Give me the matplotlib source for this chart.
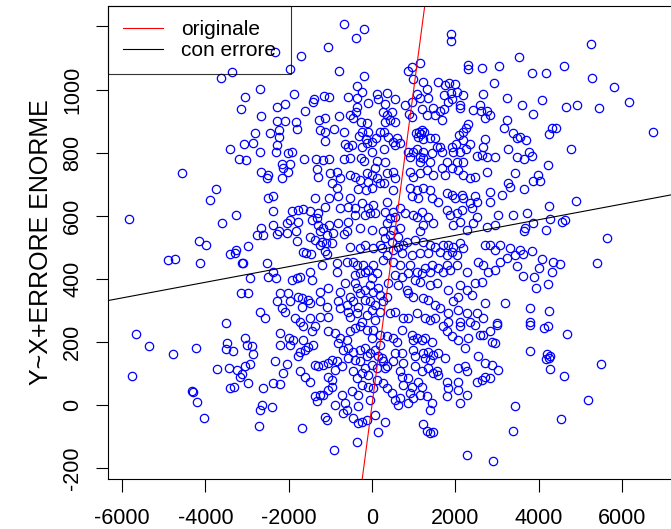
import numpy as np
import matplotlib
matplotlib.use("Agg")
import matplotlib.pyplot as plt

plt.rcParams['font.family'] = ['Liberation Sans', 'DejaVu Sans']

# simulated sample, grouped by band of the plot (x, y)
band_top_left = [(-3616, 1038), (-3352, 1056), (-3400, 811), (-3184, 780), (-3144, 937)]

band_top_mid = [
    (-664, 1208), (-192, 1191), (-392, 1165), (-1064, 1134), (-2320, 1120), (-1704, 1107),
    (-1968, 1064), (-792, 1060), (-192, 1044), (-368, 1011), (-248, 991), (-2688, 1003),
    (-3048, 977), (-1872, 985), (-1392, 969), (-1152, 979), (-1024, 975), (-568, 978),
    (-352, 972), (-88, 958), (112, 985), (136, 970), (-2272, 946), (-2088, 954),
    (-1608, 932), (-1408, 961), (-800, 916), (-528, 919), (-392, 930), (-368, 946),
    (-2672, 916), (-2272, 901), (-2088, 901), (-1832, 898), (-1792, 874), (-1272, 903),
    (-1128, 911), (-1248, 872), (-1128, 864), (-912, 874), (-664, 865), (-448, 911),
    (-272, 898), (-128, 893), (-248, 866), (-88, 866), (-304, 853), (-144, 842),
    (-8, 835), (96, 845), (-2808, 861), (-2448, 861), (-2224, 872), (-2224, 848),
    (-2848, 829), (-3072, 826), (-2272, 824), (-1128, 837), (-648, 826), (-568, 819),
    (-488, 824), (-248, 819), (-128, 829), (-2688, 803), (-2304, 803), (-2008, 799),
    (-1912, 803), (-2168, 763), (-1968, 763), (-1632, 780), (-1352, 780), (-1168, 776),
    (-1024, 780), (-672, 780), (-528, 784), (-272, 782), (-192, 775), (-3032, 776),
    (112, 773), (-8, 803), (192, 866),
]

band_top_right = [
    (1896, 1176), (1896, 1154), (1152, 1085), (872, 1060), (968, 1072), (992, 1035),
    (2312, 1078), (2312, 1065), (2632, 1069), (3048, 1076), (3536, 1102), (2928, 1022),
    (2656, 986), (3232, 972), (1232, 1023), (1312, 1002), (1592, 1023), (1752, 1016),
    (1856, 1020), (1992, 1017), (368, 988), (552, 970), (312, 953), (472, 930),
    (432, 903), (552, 896), (312, 898), (792, 951), (888, 924), (952, 961),
    (1072, 985), (1152, 974), (1352, 972), (1192, 938), (1312, 919), (1456, 942),
    (1512, 919), (1632, 932), (1728, 938), (1672, 903), (1728, 983), (1888, 988),
    (2048, 991), (2192, 983), (1832, 961), (1912, 969), (2112, 942), (2112, 951),
    (2432, 935), (2592, 951), (2608, 932), (2768, 932), (2832, 919), (2712, 911),
    (3232, 903), (3168, 879), (2296, 890), (2256, 879), (2192, 866), (2096, 856),
    (2192, 840), (2016, 827), (2112, 803), (2256, 811), (2352, 826), (2512, 790),
    (2632, 792), (2712, 843), (2672, 819), (2768, 787), (2952, 785), (3272, 813),
    (3392, 861), (3472, 845), (3552, 850), (3472, 787), (1136, 866), (1192, 872),
    (1248, 866), (1112, 850), (1232, 843), (1392, 845), (1512, 845), (1552, 819),
    (1632, 819), (1672, 803), (1432, 798), (1232, 803), (1072, 813), (992, 803),
    (872, 803), (1152, 787), (1232, 784), (912, 787), (592, 845), (512, 835),
    (672, 829), (288, 810), (288, 866), (392, 850), (312, 771), (1792, 771),
    (1912, 819), (1952, 803), (2032, 771), (2192, 771), (1152, 771), (1392, 771),
    (1168, 858), (1056, 861), (552, 824), (352, 919), (272, 930), (952, 914),
]

band_top_far = [
    (5256, 1145), (3832, 1053), (4176, 1054), (4616, 1075), (5288, 1038), (5816, 1009),
    (6168, 959), (5448, 940), (4912, 951), (4648, 945), (4072, 966), (3608, 951),
    (3872, 921), (6752, 864), (4256, 858), (4312, 879), (4416, 877), (4776, 813),
    (3688, 840), (3768, 801), (3848, 789), (3648, 780), (4216, 761),
]

band_mid_left = [
    (-4568, 735), (-3752, 684), (-3888, 651), (-5824, 590), (-3264, 602), (-3592, 578),
    (-4152, 520), (-3992, 506), (-4888, 461), (-4728, 464), (-4128, 451), (-3408, 478),
    (-3264, 491), (-3288, 481), (-3128, 451), (-3144, 354), (-3504, 259),
]

band_mid_mid = [
    (-2672, 738), (-2488, 729), (-2528, 721), (-2168, 719), (-2128, 750), (-2008, 740),
    (-1328, 748), (-1288, 724), (-1008, 735), (-848, 740), (-768, 719), (-968, 703),
    (-832, 687), (-528, 729), (-408, 724), (-288, 713), (-128, 735), (-88, 708),
    (72, 750), (112, 719), (-2488, 657), (-2384, 664), (-1368, 655), (-1024, 655),
    (-808, 661), (-528, 655), (-328, 685), (-144, 682), (-8, 687), (-2368, 616),
    (-1928, 616), (-1768, 618), (-1648, 620), (-1488, 616), (-1288, 608), (-1128, 626),
    (-768, 624), (-568, 629), (-408, 624), (-248, 639), (-88, 624), (32, 634),
    (72, 608), (-2048, 576), (-1968, 587), (-1768, 579), (-1448, 587), (-1328, 592),
    (-1288, 571), (-1168, 562), (-1024, 571), (-808, 576), (-568, 581), (-408, 602),
    (-168, 602), (-48, 608), (-288, 560), (-8, 555), (-2672, 560), (-2608, 539),
    (-2768, 539), (-2384, 569), (-2272, 541), (-2224, 550), (-2048, 544), (-1824, 550),
    (-1808, 520), (-1488, 534), (-1368, 523), (-1248, 550), (-1208, 518), (-1088, 539),
    (-928, 544), (-1104, 513), (-968, 513), (-672, 541), (-608, 550), (-2968, 504),
    (-1648, 484), (-1584, 481), (-1472, 478), (-1248, 507), (-1072, 478), (-1128, 488),
    (-528, 502), (-288, 497), (-168, 507), (32, 497), (192, 507), (-2528, 449),
    (-2368, 423), (-2312, 402), (-2488, 407), (-2928, 402), (-3088, 451), (-1928, 396),
    (-1808, 402), (-1728, 407), (-1488, 423), (-1448, 396), (-1208, 444), (-848, 449),
    (-848, 423), (-608, 454), (-448, 454), (-368, 444), (-168, 423), (-88, 428),
    (32, 444), (-288, 417), (112, 417), (-408, 412), (-408, 386), (-2208, 354),
    (-2008, 354), (-1768, 343), (-1688, 338), (-1528, 333), (-1248, 359), (-1048, 370),
    (-768, 359), (-648, 386), (-368, 370), (-288, 354), (-168, 365), (-48, 380),
    (32, 359), (152, 370), (-2968, 354), (-2288, 328), (-2168, 306), (-1968, 328),
    (-1688, 312), (-1488, 322), (-1248, 328), (-1088, 312), (-808, 328), (-608, 317),
    (-448, 328), (-328, 312), (-168, 333), (-48, 328), (72, 317), (-8, 301),
    (-2688, 296), (-2568, 275), (-2088, 296), (-1848, 275), (-1728, 264), (-1488, 275),
    (-1248, 280), (-1048, 280), (-768, 306), (-568, 296), (-528, 280), (-368, 291),
    (-248, 264), (-128, 285), (72, 269), (-208, 444), (-8, 402), (192, 349),
    (192, 296), (-528, 343), (-8, 729), (192, 703),
]

band_mid_right = [
    (352, 735), (512, 740), (552, 719), (912, 740), (992, 724), (1152, 735),
    (1312, 745), (1472, 729), (1672, 750), (1752, 729), (1912, 750), (2072, 745),
    (2192, 729), (2352, 719), (2472, 724), (2752, 740), (3432, 735), (3272, 703),
    (3312, 692), (288, 703), (512, 682), (912, 687), (1072, 682), (1232, 687),
    (1392, 682), (952, 661), (1112, 655), (1432, 655), (1592, 645), (1792, 671),
    (1912, 666), (1992, 655), (2152, 666), (2192, 655), (2352, 639), (2472, 661),
    (2512, 645), (2832, 676), (3112, 666), (2832, 645), (352, 645), (312, 613),
    (512, 613), (552, 597), (672, 624), (792, 608), (992, 602), (1072, 597),
    (1192, 613), (1352, 597), (1472, 576), (1232, 571), (1152, 550), (1792, 618),
    (1872, 602), (2032, 608), (2152, 618), (2392, 624), (2512, 597), (2432, 576),
    (2112, 581), (1952, 571), (2272, 555), (2752, 565), (2952, 571), (3032, 602),
    (3392, 602), (352, 576), (512, 555), (672, 560), (272, 550), (312, 528),
    (432, 539), (632, 534), (832, 518), (752, 507), (1032, 523), (1232, 518),
    (1392, 507), (1512, 502), (1712, 507), (1832, 507), (1952, 502), (2112, 513),
    (1632, 486), (1792, 476), (2032, 476), (2192, 497), (2712, 507), (2832, 507),
    (2952, 491), (3072, 507), (3312, 497), (3552, 491), (512, 491), (712, 481),
    (952, 476), (1152, 481), (1352, 481), (352, 476), (272, 460), (512, 454),
    (672, 444), (912, 444), (1072, 423), (1272, 433), (1432, 444), (1592, 433),
    (1712, 423), (1872, 428), (2032, 444), (2272, 423), (2552, 454), (2672, 444),
    (2792, 423), (2952, 428), (3072, 454), (3232, 465), (3432, 476), (3472, 439),
    (552, 412), (712, 407), (872, 417), (392, 386), (632, 380), (832, 365),
    (1032, 396), (1152, 391), (1392, 380), (1552, 386), (1832, 365), (2112, 380),
    (2272, 365), (2472, 386), (2632, 391), (352, 343), (272, 328), (872, 354),
    (992, 343), (1232, 338), (1352, 333), (1512, 317), (1632, 306), (1952, 328),
    (2072, 343), (2392, 349), (2712, 322), (3192, 322), (432, 291), (552, 296),
    (752, 275), (872, 275), (1072, 291), (1272, 275), (1392, 269), (1512, 275),
    (1832, 291), (2072, 301), (2272, 291), (2512, 291), (2352, 264), (2672, 275),
    (2992, 259), (1832, 264), (2112, 264), (432, 592), (232, 497), (472, 518),
    (632, 502), (1192, 417), (1392, 423), (1912, 486), (1792, 444),
]

band_mid_far = [
    (3992, 729), (3872, 710), (4032, 710), (3648, 684), (4896, 647), (4256, 632),
    (3712, 610), (4272, 590), (3872, 576), (4552, 581), (4632, 587), (4176, 554),
    (3648, 550), (3672, 560), (5648, 528), (5408, 450), (3848, 488), (4072, 463),
    (4352, 454), (4512, 448), (4328, 423), (4008, 433), (3632, 478), (3632, 409),
    (3888, 407), (3928, 370), (4216, 384), (3792, 306), (4256, 298), (3792, 262),
]

band_low_left = [
    (-5664, 225), (-5352, 187), (-4768, 161), (-4224, 180), (-5768, 93), (-4328, 43),
    (-4304, 40), (-4208, 9), (-4032, -40), (-3488, 196), (-3504, 178), (-3344, 172),
    (-3728, 113), (-3424, 117), (-3248, 111), (-3168, 90), (-3408, 53), (-3312, 56),
]

band_low_mid = [
    (-3048, 212), (-3008, 191), (-2888, 188), (-2848, 161), (-2928, 129), (-3048, 122),
    (-3128, 98), (-2968, 69), (-2208, 228), (-2208, 191), (-1984, 212), (-1968, 191),
    (-1888, 206), (-1728, 169), (-1648, 206), (-1608, 175), (-1528, 185), (-1768, 154),
    (-1448, 233), (-1408, 191), (-1648, 249), (-1368, 249), (-1048, 233), (-888, 228),
    (-768, 212), (-608, 206), (-528, 233), (-408, 243), (-288, 249), (-128, 238),
    (32, 238), (192, 222), (-808, 196), (-688, 175), (-568, 180), (-448, 169),
    (-288, 175), (-168, 180), (-48, 164), (72, 175), (152, 154), (-968, 143),
    (-848, 138), (-728, 122), (-568, 148), (-408, 143), (-288, 138), (-128, 154),
    (-8, 127), (112, 117), (-1368, 127), (-1288, 122), (-1168, 127), (-1048, 132),
    (-888, 111), (-448, 106), (-248, 101), (-88, 95), (112, 80), (-2328, 138),
    (-2048, 129), (-2128, 101), (-2368, 69), (-2208, 66), (-1728, 106), (-1608, 90),
    (-1488, 74), (-1048, 90), (-968, 80), (-2608, 53), (-2648, 0), (-2688, -16),
    (-2408, -8), (-2704, -68), (-1688, -72), (-1368, 27), (-1328, 11), (-1248, 32),
    (-1168, 32), (-1048, 48), (-968, 58), (-888, 0), (-728, 32), (-648, 6),
    (-608, -16), (-488, 43), (-328, 32), (-328, -5), (-248, 64), (-88, 58),
    (-48, 16), (72, -31), (-128, -47), (-328, -58), (-248, -53), (-688, -26),
    (-448, -42), (-1128, -37), (-1088, -47), (152, -86), (-368, -119), (-912, -144),
    (-8, 212), (192, 191), (272, 138), (-168, 117), (-368, 85), (32, 53),
]

band_low_right = [
    (352, 217), (512, 212), (592, 201), (712, 238), (952, 222), (992, 206),
    (1072, 212), (1192, 206), (1272, 212), (1432, 201), (1712, 249), (1792, 233),
    (1912, 217), (2072, 206), (2112, 249), (2312, 212), (2472, 254), (2592, 222),
    (2672, 222), (2832, 233), (2872, 201), (2952, 196), (2992, 254), (2232, 180),
    (552, 164), (712, 164), (992, 175), (1032, 154), (1232, 164), (1352, 169),
    (1472, 159), (1592, 164), (1752, 148), (1272, 148), (1392, 143), (312, 117),
    (352, 122), (672, 106), (712, 90), (752, 132), (1032, 122), (1192, 106),
    (1352, 117), (1472, 101), (1552, 106), (1592, 95), (752, 64), (272, 69),
    (352, 53), (472, 37), (952, 58), (912, 37), (872, 6), (632, 0),
    (1192, 58), (1152, 32), (1312, 27), (1432, 6), (1392, -16), (1792, 74),
    (1832, 53), (1792, 27), (2072, 74), (2072, 48), (2112, 6), (2272, 32),
    (2072, 117), (2232, 122), (2288, 106), (2552, 154), (2712, 132), (2872, 127),
    (3032, 111), (2512, 74), (2632, 80), (2712, 90), (2832, 85), (3432, -5),
    (3376, -82), (1232, -61), (1312, -84), (1392, -90), (1472, -86), (312, -53),
    (2272, -160), (2912, -179), (232, 148), (512, 138), (552, 16), (672, 21),
    (992, 21), (1112, 74), (872, 85),
]

band_low_far = [
    (3792, 254), (4128, 243), (4232, 249), (4672, 224), (3792, 172), (4192, 161),
    (4272, 154), (4176, 146), (4256, 148), (4272, 114), (4608, 91), (5488, 131),
    (5192, 16), (4528, -44),
]

# true relation and the fit on the noisy data (intercept, slope)
orig_a, orig_b = 0.0, 1.0
fit_a, fit_b = 488.0, 0.0248

x_ticks = [-6000, -4000, -2000, 0, 2000, 4000, 6000]
y_ticks = [-200, 0, 200, 400, 600, 800, 1000, 1200]
y_labels = ['-200', '0', '200', '400', '600', '800', '1000', '']

bands = [band_top_left, band_top_mid, band_top_right, band_top_far,
         band_mid_left, band_mid_mid, band_mid_right, band_mid_far,
         band_low_left, band_low_mid, band_low_right, band_low_far]
pts = np.array([p for b in bands for p in b], dtype=float)
X = pts[:, 0]
Y = pts[:, 1]

fig = plt.figure(figsize=(6.71, 5.29), dpi=100)
ax = fig.add_axes([108.3 / 671, 50 / 529, 572 / 671, 473 / 529])

ax.plot(X, Y, 'o', mfc='none', mec='#0000FF', ms=6, mew=0.9, linestyle='none')
ax.axline((0, orig_a), slope=orig_b, color='#FF0000', lw=0.8, label='originale')
ax.axline((0, fit_a), slope=fit_b, color='black', lw=0.8, label='con errore')

ax.set_xlim(-6329, 7399)
ax.set_ylim(-235, 1265)

ax.set_xticks(x_ticks)
ax.set_xticklabels([str(t) for t in x_ticks])
ax.set_yticks(y_ticks)
ax.set_yticklabels(y_labels, rotation=90, va='center')
ax.tick_params(length=9, width=0.8, labelsize=15.5)
ax.tick_params(axis='x', pad=12)
ax.tick_params(axis='y', pad=9)
for s in ax.spines.values():
    s.set_linewidth(0.8)

ax.set_ylabel('Y~X+ERRORE ENORME', fontsize=18)
ax.yaxis.set_label_coords(-0.097, 0.5)

leg = ax.legend(loc='upper left', bbox_to_anchor=(0, 1), borderaxespad=0,
                fontsize=15, fancybox=False, edgecolor='black', facecolor='none',
                borderpad=0.69, labelspacing=0.08, handlelength=1.92,
                handletextpad=0.9)
leg.get_frame().set_linewidth(0.8)

fig.savefig('out.png', dpi=100)
